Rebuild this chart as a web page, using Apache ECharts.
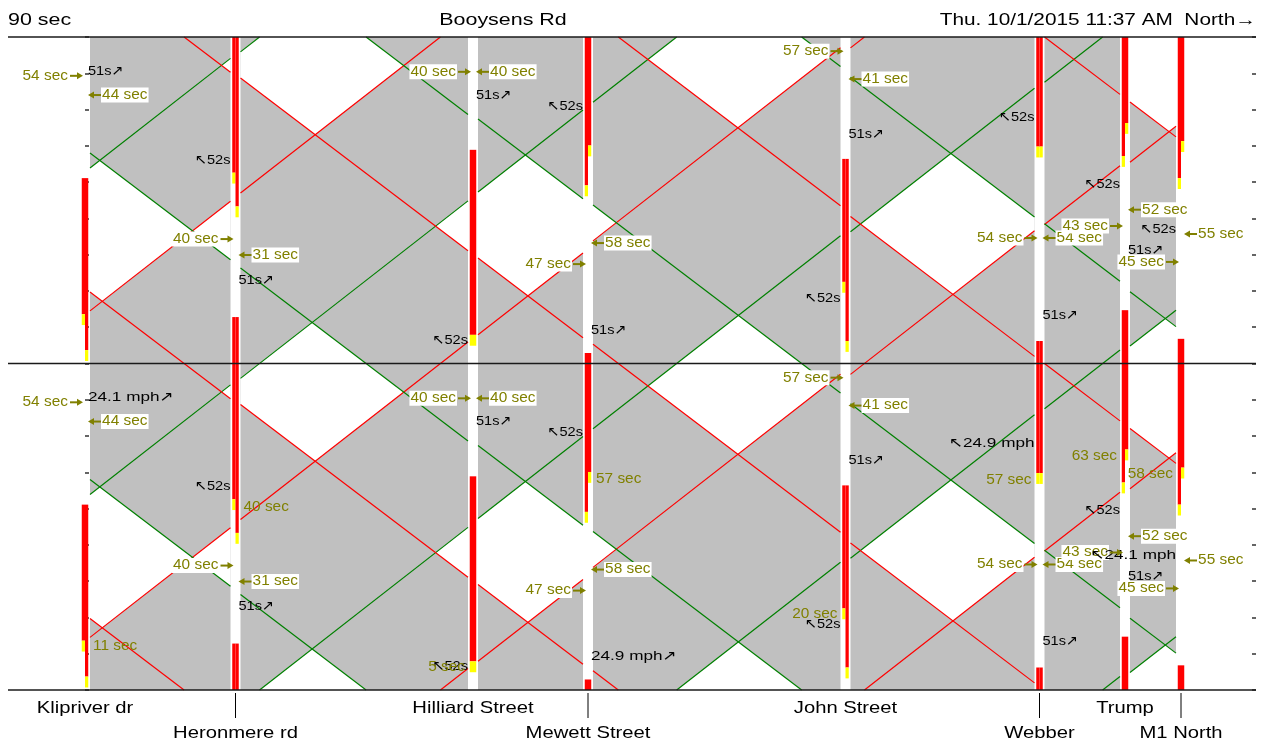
<!DOCTYPE html>
<html><head><meta charset="utf-8">
<script src="https://cdn.jsdelivr.net/npm/echarts@6/dist/echarts.min.js"></script>
<style>html,body{margin:0;padding:0;background:#fff}#c{width:1262px;height:742px}</style>
</head><body><div id="c"></div>
<script>
// ---------------- data ----------------
const CYCLE = 90;                       // cycle length, s
const intersections = ['Klipriver dr','Heronmere rd','Hilliard Street','Mewett Street','John Street','Webber','Trump','M1 North'];
const intersectionDist = [0, 1204, 3104, 4024, 6084, 7636, 8320, 8768];   // ft from Klipriver
const NB_SPEED = 37.2;   // ft/s
const SB_SPEED = 38.2;   // ft/s
// band edge times (s, within cycle) at the upstream (left) end of each link
const nbGreen = [53.9, 85.9, 47.3, 72.0, 36.3, 77.5, 4.8];
const nbRed   = [14.5, 47.0,  7.9, 33.8, 87.0, 38.3, 55.5];
const sbGreen = [58.0, 26.3, 67.4, 43.7, 78.9, 38.5, 19.8];
const sbRed   = [19.7, 78.7, 29.1,  5.3, 40.5,  0.0, 72.1];
// links where the time outside both bands is left unshaded
const showGap = [true, true, true, true, true, false, true];
// extra white areas: [link, lower edge, upper edge]
const extraWhite = [[0, 'SBg', 'NBr']];
// signal timing: red start for column A / column B, common red end (s)
const redStartA = [13.6, 52.6,  7.9, 49.1, 22.5, 59.8, 57.2, 51.1];
const redStartB = [ 3.7, 43.3,  7.9, 60.1,  6.2, 59.8, 66.3, 61.3];
const redEnd    = [51.1,102.8, 58.9, 92.9, 56.4, 96.2,104.7, 96.8];
const YELLOW = 3;
// arrival labels each cycle: [intersection, side, text, time]
const arrivalLabels = [
  [0,'L','54 sec',79.3],[0,'R','44 sec',74.0],
  [1,'L','40 sec',34.3],[1,'R','31 sec',29.9],
  [2,'L','40 sec',80.4],[2,'R','40 sec',80.4],
  [3,'L','47 sec',27.4],[3,'R','58 sec',33.2],
  [4,'L','57 sec',86.1],[4,'R','41 sec',78.4],
  [5,'L','54 sec',34.6],[5,'R','54 sec',34.6],
  [6,'L','43 sec',37.9],[6,'R','52 sec',42.4],
  [7,'L','45 sec',28.0],[7,'R','55 sec',35.7]
];
// offset labels (first cycle only): [intersection, side, text, time]
const offsetLabels = [
  [0,'R','11 sec',12.1],[1,'R','40 sec',50.4],[2,'L','5 sec',6.3],[3,'R','57 sec',58.2],
  [4,'L','20 sec',20.9],[5,'L','57 sec',57.9],[6,'L','63 sec',64.5],[7,'L','58 sec',59.5]
];
// travel labels per link: time, first-cycle text, second-cycle text
const nbLabelTime = [80.6, 23.0, 74.0, 9.2, 63.3, 13.4, 31.3];
const nbLabelText1 = ['24.1 mph↗','51s↗','51s↗','24.9 mph↗','51s↗','51s↗','51s↗'];
const nbLabelText2 = ['51s↗','51s↗','51s↗','51s↗','51s↗','51s↗','51s↗'];
const sbLabelTime = [56.1, 6.5, 71.0, 18.1, 67.9, 49.5, 37.1];
const sbLabelText1 = ['↖52s','↖52s','↖52s','↖52s','↖24.9 mph','↖52s','↖24.1 mph'];
const sbLabelText2 = ['↖52s','↖52s','↖52s','↖52s','↖52s','↖52s','↖52s'];
const titleLeft = '90 sec', titleMid = 'Booysens Rd', titleRight = 'Thu. 10/1/2015 11:37 AM  North→';

// ---------------- helpers ----------------
const GAP = 40, BAR_HALF = 26, TMAX = 180;
const FONT = '"Liberation Sans", Arial, "DejaVu Sans", sans-serif';
const OLIVE = '#808000';
const links = [];
for (let i = 0; i < intersections.length - 1; i++) {
  const xL = intersectionDist[i] + GAP, xR = intersectionDist[i + 1] - GAP;
  links.push({
    xL, xR,
    NBg: x => nbGreen[i] + (x - xL) / NB_SPEED,
    NBr: x => nbRed[i] + (x - xL) / NB_SPEED,
    SBg: x => sbGreen[i] - (x - xL) / SB_SPEED,
    SBr: x => sbRed[i] - (x - xL) / SB_SPEED
  });
}
function clipPoly(poly, f) {
  const out = [];
  for (let i = 0; i < poly.length; i++) {
    const P = poly[i], Q = poly[(i + 1) % poly.length];
    const fp = f(P), fq = f(Q);
    if (fp >= 0) out.push(P);
    if ((fp >= 0) !== (fq >= 0)) {
      const r = fp / (fp - fq);
      out.push([P[0] + (Q[0] - P[0]) * r, P[1] + (Q[1] - P[1]) * r]);
    }
  }
  return out;
}
function whitePolys(L, i) {
  const res = [];
  const nbOff = nbGreen[i] > nbRed[i] ? 0 : CYCLE;
  const sbOff = sbGreen[i] > sbRed[i] ? 0 : CYCLE;
  const rect = [[L.xL, 0], [L.xR, 0], [L.xR, TMAX], [L.xL, TMAX]];
  if (showGap[i]) {
    for (let kn = -3; kn <= 3; kn++) for (let ks = -3; ks <= 3; ks++) {
      let p = rect;
      p = clipPoly(p, q => q[1] - (L.NBr(q[0]) + kn * CYCLE));
      p = clipPoly(p, q => (L.NBg(q[0]) + nbOff + kn * CYCLE) - q[1]);
      p = clipPoly(p, q => q[1] - (L.SBr(q[0]) + ks * CYCLE));
      p = clipPoly(p, q => (L.SBg(q[0]) + sbOff + ks * CYCLE) - q[1]);
      if (p.length >= 3) res.push(p);
    }
  }
  extraWhite.filter(e => e[0] === i).forEach(e => {
    for (let k = -3; k <= 3; k++) {
      let p = rect;
      p = clipPoly(p, q => q[1] - (L[e[1]](q[0]) + k * CYCLE));
      p = clipPoly(p, q => (L[e[2]](q[0]) + k * CYCLE) - q[1]);
      if (p.length >= 3) res.push(p);
    }
  });
  return res;
}
function clipSeg(f, x0, x1) {
  const f0 = f(x0), f1 = f(x1), s = (f1 - f0) / (x1 - x0);
  const xAt = t => x0 + (t - f0) / s;
  let lo = x0, hi = x1;
  if (s > 0) { lo = Math.max(lo, xAt(0)); hi = Math.min(hi, xAt(TMAX)); }
  else if (s < 0) { lo = Math.max(lo, xAt(TMAX)); hi = Math.min(hi, xAt(0)); }
  return lo < hi ? [lo, hi] : null;
}
function txt(x, y, text, o) {
  return { type: 'text', x, y, scaleX: o.sx || 1, z2: 10,
    style: { text, x: 0, y: 0, fill: o.fill || '#000', fontSize: o.size, fontFamily: FONT,
      align: o.align || 'left', verticalAlign: 'middle', backgroundColor: o.bg, padding: o.pad } };
}
function arrow(tip, y, dir) { // dir = -1: arrow comes from the left (points right); +1: comes from the right
  const head = 6, len = 13;
  return [
    { type: 'line', z2: 11, shape: { x1: tip + dir * 4, y1: y, x2: tip + dir * len, y2: y }, style: { stroke: OLIVE, lineWidth: 2 } },
    { type: 'polygon', z2: 11, shape: { points: [[tip, y], [tip + dir * head, y - 3.5], [tip + dir * head, y + 3.5]] }, style: { fill: OLIVE } }
  ];
}

// ---------------- chart ----------------
const chart = echarts.init(document.getElementById('c'));
const xMin = -616, xMax = 9368;
const axisY = pos => ({ type: 'value', min: 0, max: TMAX, interval: 10, position: pos,
  axisLine: { show: false }, axisLabel: { show: false }, splitLine: { show: false },
  axisTick: { show: true, inside: true, length: 4, lineStyle: { color: '#333', width: 1.5 } } });

const option = {
  animation: false,
  grid: { left: 8, right: 6, top: 37, bottom: 52 },
  xAxis: { type: 'value', min: xMin, max: xMax, show: false },
  yAxis: [axisY('left'), axisY('right')],
  graphic: [
    { type: 'text', x: 8, y: 20, scaleX: 1.3, style: { text: titleLeft, fontSize: 16.5, fontFamily: FONT, fill: '#000', verticalAlign: 'middle' } },
    { type: 'text', x: 503, y: 20, scaleX: 1.3, style: { text: titleMid, fontSize: 16.5, fontFamily: FONT, fill: '#000', align: 'center', verticalAlign: 'middle' } },
    { type: 'text', x: 1256, y: 20, scaleX: 1.26, style: { text: titleRight, fontSize: 16.5, fontFamily: FONT, fill: '#000', align: 'right', verticalAlign: 'middle' } }
  ],
  series: [
    { // gray links with white gaps
      type: 'custom', data: [[0, 0]], silent: true, z: 1,
      renderItem: (params, api) => {
        const children = [];
        links.forEach((L, i) => {
          const a = api.coord([L.xL, TMAX]), b = api.coord([L.xR, 0]);
          children.push({ type: 'rect', shape: { x: a[0], y: a[1], width: b[0] - a[0], height: b[1] - a[1] }, style: { fill: '#C0C0C0' } });
          whitePolys(L, i).forEach(p => children.push({ type: 'polygon', shape: { points: p.map(q => api.coord(q)) }, style: { fill: '#FFFFFF' } }));
        });
        return { type: 'group', children };
      }
    },
    { // band lines
      type: 'custom', data: [[0, 0]], silent: true, z: 2,
      renderItem: (params, api) => {
        const children = [];
        links.forEach(L => {
          [['NBg', '#008000'], ['NBr', '#FF0000'], ['SBg', '#008000'], ['SBr', '#FF0000']].forEach(([key, col]) => {
            for (let k = -3; k <= 3; k++) {
              const f = x => L[key](x) + k * CYCLE;
              const seg = clipSeg(f, L.xL, L.xR);
              if (!seg) continue;
              const p1 = api.coord([seg[0], f(seg[0])]), p2 = api.coord([seg[1], f(seg[1])]);
              children.push({ type: 'line', shape: { x1: p1[0], y1: p1[1], x2: p2[0], y2: p2[1] }, style: { stroke: col, lineWidth: 1.2 } });
            }
          });
        });
        return { type: 'group', children };
      }
    },
    { // signal bars
      type: 'custom', data: [[0, 0]], silent: true, z: 3,
      renderItem: (params, api) => {
        const children = [];
        const bar = (x0, x1, t0, t1, col) => {
          const a = Math.max(0, t0), b = Math.min(TMAX, t1);
          if (a >= b) return;
          const p = api.coord([x0, b]), q = api.coord([x1, a]);
          children.push({ type: 'rect', shape: { x: p[0], y: p[1], width: q[0] - p[0], height: q[1] - p[1] }, style: { fill: col } });
        };
        intersectionDist.forEach((d, i) => {
          [[d - BAR_HALF, d, redStartA[i]], [d, d + BAR_HALF, redStartB[i]]].forEach(([x0, x1, rs]) => {
            for (let k = -2; k <= 2; k++) {
              const o = k * CYCLE;
              bar(x0, x1, rs + o, redEnd[i] + o, '#FF0000');
              bar(x0, x1, rs - YELLOW + o, rs + o, '#FFFF00');
            }
          });
        });
        return { type: 'group', children };
      }
    },
    { // cycle rules and intersection names
      type: 'custom', data: [[0, 0]], silent: true, z: 4, clip: false,
      renderItem: (params, api) => {
        const children = [];
        [0, CYCLE, TMAX].forEach(t => {
          const a = api.coord([xMin, t]), b = api.coord([xMax, t]);
          children.push({ type: 'line', shape: { x1: a[0], y1: a[1], x2: b[0], y2: b[1] }, style: { stroke: '#1a1a1a', lineWidth: 1.4 } });
        });
        intersections.forEach((name, i) => {
          const p = api.coord([intersectionDist[i], 0]);
          const lower = i % 2 === 1;
          if (lower) children.push({ type: 'line', shape: { x1: p[0], y1: p[1] + 3, x2: p[0], y2: p[1] + 28 }, style: { stroke: '#000', lineWidth: 1 } });
          children.push(txt(p[0], p[1] + (lower ? 43 : 18), name, { size: 17, sx: 1.19, align: 'center' }));
        });
        return { type: 'group', children };
      }
    },
    { // labels
      type: 'custom', data: [[0, 0]], silent: true, z: 5, clip: false,
      renderItem: (params, api) => {
        const children = [];
        for (let k = 0; k < 2; k++) {
          arrivalLabels.forEach(([ix, side, text, t]) => {
            const p = api.coord([intersectionDist[ix], t + k * CYCLE]);
            if (side === 'L') {
              const tip = p[0] - 2;
              children.push(txt(tip - 14, p[1], text, { size: 14, sx: 1.1, align: 'right', fill: OLIVE, bg: '#FFFFFF', pad: [1, 1, 0, 1] }));
              children.push(...arrow(tip, p[1], -1));
            } else {
              const tip = p[0] + 3;
              children.push(txt(tip + 13, p[1], text, { size: 14, sx: 1.1, align: 'left', fill: OLIVE, bg: '#FFFFFF', pad: [1, 1, 0, 1] }));
              children.push(...arrow(tip, p[1], 1));
            }
          });
          links.forEach((L, i) => {
            const tn = k === 0 ? nbLabelText1[i] : nbLabelText2[i];
            const pn = api.coord([L.xL, nbLabelTime[i] + k * CYCLE]);
            children.push(txt(pn[0] - 2, pn[1], tn, { size: 13.5, sx: tn.indexOf('mph') >= 0 ? 1.27 : 1.08, align: 'left', fill: '#000' }));
            const ts = k === 0 ? sbLabelText1[i] : sbLabelText2[i];
            const ps = api.coord([L.xR, sbLabelTime[i] + k * CYCLE]);
            children.push(txt(ps[0], ps[1], ts, { size: 13.5, sx: ts.indexOf('mph') >= 0 ? 1.27 : 1.08, align: 'right', fill: '#000' }));
          });
        }
        offsetLabels.forEach(([ix, side, text, t]) => {
          const p = api.coord([intersectionDist[ix], t]);
          children.push(txt(p[0] + (side === 'L' ? -8 : 8), p[1], text, { size: 14, sx: 1.1, align: side === 'L' ? 'right' : 'left', fill: OLIVE }));
        });
        return { type: 'group', children };
      }
    }
  ]
};
chart.setOption(option);
</script>
</body></html>
